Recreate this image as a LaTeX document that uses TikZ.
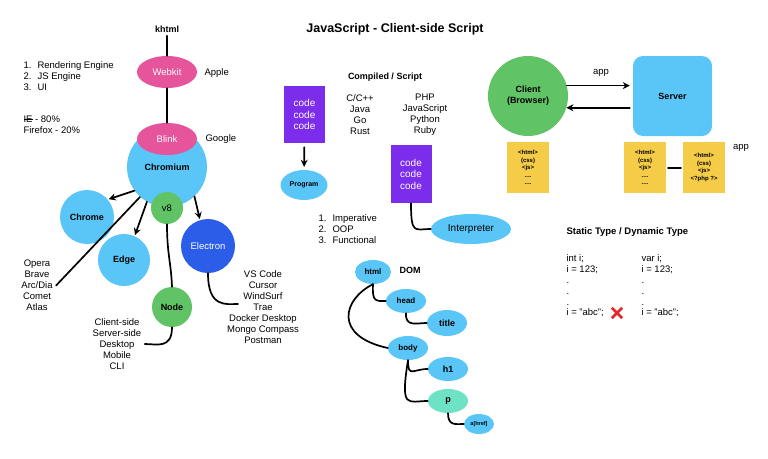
\documentclass[tikz,border=0pt]{standalone}
\usepackage{fontspec}
\setmainfont{Liberation Sans}
\usetikzlibrary{shapes.geometric,arrows.meta}

\definecolor{pinkw}{HTML}{E6549B}
\definecolor{skyb}{HTML}{5AC6F7}
\definecolor{leaf}{HTML}{60C365}
\definecolor{deepb}{HTML}{2B5DE8}
\definecolor{codepurple}{HTML}{7C2CEB}
\definecolor{note}{HTML}{F5CC47}
\definecolor{mint}{HTML}{6DE2C4}
\definecolor{wrongred}{HTML}{E8262A}

\newcommand{\enumrow}[2]{\makebox[14pt][l]{#1}#2}
\newcommand{\strikeword}[1]{\setbox0\hbox{#1}\rlap{\rule[0.3em]{\wd0}{0.5pt}}#1}

\tikzset{
  txt/.style={font=\fontsize{9.5}{11}\selectfont, align=center},
  lbl/.style={font=\fontsize{9}{11}\selectfont\bfseries, align=center},
  blob/.style={circle, fill=skyb, inner sep=0pt, font=\fontsize{9}{11}\selectfont\bfseries},
  oval/.style={ellipse, fill=skyb, inner sep=0pt, font=\fontsize{8}{10}\selectfont\bfseries},
  codebox/.style={rectangle, fill=codepurple, text=white, align=center,
    minimum width=41pt, minimum height=57pt, font=\fontsize{10}{11.5}\selectfont},
  sheet/.style={rectangle, fill=note, align=center, minimum width=42pt,
    minimum height=51pt, font=\fontsize{6}{7.5}\selectfont\bfseries},
  link/.style={line width=1.7pt},
  arr/.style={-{Stealth[length=7pt,width=7pt]}, line width=1.7pt},
}

\begin{document}
\begin{tikzpicture}[x=1pt, y=-1pt, line cap=round, line join=round]
\useasboundingbox (0,0) rectangle (768,458);

% Motori di rendering
\node[lbl] (khtml) at (167,29) {khtml};
\node[oval, fill=pinkw, text=white, minimum width=60pt, minimum height=32pt,
  font=\fontsize{9.5}{11}\selectfont] (webkit) at (167,72) {Webkit};
\node[txt, anchor=west] (apple) at (201,73) {Apple};
\draw[link] (khtml) -- (webkit);

\node[blob, minimum size=80pt] (chromium) at (167,167) {\\[2pt]Chromium};
\node[oval, fill=pinkw, text=white, minimum width=60pt, minimum height=32pt,
  font=\fontsize{9.5}{11}\selectfont] (blink) at (167,139) {Blink};
\node[txt, anchor=west] (google) at (202,139) {Google};
\draw[link] (webkit) -- (blink);
\node[blob, fill=leaf, minimum size=32pt, font=\fontsize{9.5}{11}\selectfont] (v8) at (167,208) {v8};

% Browser e runtime
\node[blob, minimum size=54pt] (chrome) at (87,217) {Chrome};
\node[blob, minimum size=52pt] (edge) at (124,260) {Edge};
\node[blob, fill=deepb, text=white, minimum size=54pt, font=\fontsize{9.5}{11}\selectfont] (electron) at (208,246) {Electron};
\node[blob, fill=leaf, minimum size=40pt] (node) at (172,307) {Node};

\draw[arr, shorten >=1pt] (chromium.216) -- (chrome.40);
\draw[arr, shorten >=1pt] (chromium.240) -- (edge.66);
\draw[arr, shorten >=1pt] (chromium.313) -- (electron.107);

\node[txt] (forks) at (37,285.5) {Opera\\Brave\\Arc/Dia\\Comet\\Atlas};
\draw[link] (chromium.228) -- (forks.east);

\draw[link] (v8.south) .. controls +(0,30) and +(-1,-25) .. (node.north);
\node[txt] (uses) at (117,344) {Client-side\\Server-side\\Desktop\\Mobile\\CLI};
\draw[link] (node.south) .. controls +(0,22) and +(12,0) .. (uses.east);

\node[txt] (apps) at (263,307.5) {VS Code\\Cursor\\WindSurf\\Trae\\Docker Desktop\\Mongo Compass\\Postman};
\coordinate (trae) at (238,304);
\draw[link] (electron.south) .. controls +(0,35) and +(-12,0) .. (trae);

% Note a sinistra
\node[txt, align=left, anchor=west] (engines) at (20,76)
  {\enumrow{1.}{Rendering Engine}\\\enumrow{2.}{JS Engine}\\\enumrow{3.}{UI}};
\node[txt, align=left, anchor=west] (share) at (20,124.5)
  {\strikeword{IE} - 80\%\\Firefox - 20\%};

% Titolo
\node[font=\fontsize{12.5}{14}\selectfont\bfseries] (heading) at (395,29) {JavaScript - Client-side Script};

% Compilato / interpretato
\node[lbl] (compiledhead) at (385,77) {Compiled / Script};
\node[codebox] (code1) at (304.5,114.5) {code\\code\\code};
\node[oval, minimum width=47pt, minimum height=30pt, font=\fontsize{7}{9}\selectfont\bfseries] (program) at (304,185) {Program};
\draw[arr, shorten <=4pt, shorten >=3pt] (code1) -- (program);

\node[txt] (compiled) at (360,114.5) {C/C++\\Java\\Go\\Rust};
\node[txt] (scripted) at (425,114.5) {PHP\\JavaScript\\Python\\Ruby};

\node[codebox, minimum height=58pt] (code2) at (411,174) {code\\code\\code};
\node[oval, minimum width=80pt, minimum height=30pt, font=\fontsize{10}{12}\selectfont] (interpreter) at (471,229) {Interpreter};
\draw[link] (code2.south) .. controls +(0,32) and +(-16,0) .. (interpreter.west);

\node[txt, align=left, anchor=west] (paradigms) at (315,229)
  {\enumrow{1.}{Imperative}\\\enumrow{2.}{OOP}\\\enumrow{3.}{Functional}};

% DOM
\node[oval, minimum width=36pt, minimum height=24pt] (dhtml) at (373,272) {html};
\node[lbl] (domlabel) at (410,270) {DOM};
\node[oval, minimum width=40pt, minimum height=24pt] (dhead) at (406,301) {head};
\node[oval, minimum width=40pt, minimum height=26pt, font=\fontsize{9}{11}\selectfont\bfseries] (dtitle) at (447,323) {title};
\node[oval, minimum width=40pt, minimum height=24pt] (dbody) at (408,348) {body};
\node[oval, minimum width=40pt, minimum height=24pt, font=\fontsize{9}{11}\selectfont\bfseries] (dh1) at (448,369) {h1};
\node[oval, fill=mint, minimum width=40pt, minimum height=24pt, font=\fontsize{9}{11}\selectfont\bfseries] (dp) at (448,401) {p};
\node[oval, minimum width=30pt, minimum height=20pt, font=\fontsize{5.5}{7}\selectfont\bfseries] (da) at (479,424) {a[href]};

\draw[link] (dhtml.south) .. controls +(-1,18) and +(-10,0) .. (dhead.west);
\draw[link] (dhtml.south) .. controls +(-30,15) and +(-55,-12) .. (dbody.west);
\draw[link] (dhead.south) .. controls +(-1,14) and +(-10,0) .. (dtitle.west);
\draw[link] (dbody.south) .. controls +(0,18) and +(-15,0) .. (dh1.west);
\draw[link] (dbody.south) .. controls +(-8,50) and +(-20,0) .. (dp.west);
\draw[link] (dp.south) .. controls +(0,13) and +(-8,0) .. (da.west);

% Client / Server
\node[blob, fill=leaf, minimum size=80pt, align=center] (client) at (528,96) {Client\\(Browser)};
\node[rectangle, rounded corners=10pt, fill=skyb, minimum width=79pt, minimum height=80pt,
  font=\fontsize{9}{11}\selectfont\bfseries] (server) at (672.5,96) {Server};
\draw[arr, shorten >=3pt] (client.15) -- (client.15 -| server.west);
\draw[arr, shorten <=3pt] (client.-17 -| server.west) -- (client.-17);
\node[txt] (applabel) at (601,73) {app};

\node[sheet] (page1) at (528,167.5) {<html>\\(css)\\<js>\\....\\....};
\node[sheet] (page2) at (645,167.5) {<html>\\(css)\\<js>\\....\\....};
\node[sheet] (page3) at (704,167.5) {<html>\\(css)\\<js>\\<?php ?>};
\draw[link, line width=2pt, shorten <=2pt, shorten >=2pt] (page2) -- (page3);
\node[txt] (applabel2) at (741,148) {app};

% Tipi statici / dinamici
\node[lbl, anchor=west, font=\fontsize{9.5}{11}\selectfont\bfseries] (typehead) at (563,232) {Static Type / Dynamic Type};
\node[txt, align=left, anchor=west, font=\fontsize{9.5}{10.8}\selectfont] (statictype) at (563,286)
  {int i;\\i = 123;\\.\\.\\.\\i = "abc";};
\node[txt, align=left, anchor=west, font=\fontsize{9.5}{10.8}\selectfont] (dynamictype) at (638,286)
  {var i;\\i = 123;\\.\\.\\.\\i = "abc";};
\node[minimum size=10pt, inner sep=0pt] (wrong) at (617,313) {};
\draw[wrongred, line width=2.5pt, line cap=butt] (wrong.north west) -- (wrong.south east)
  (wrong.north east) -- (wrong.south west);

\end{tikzpicture}
\end{document}
